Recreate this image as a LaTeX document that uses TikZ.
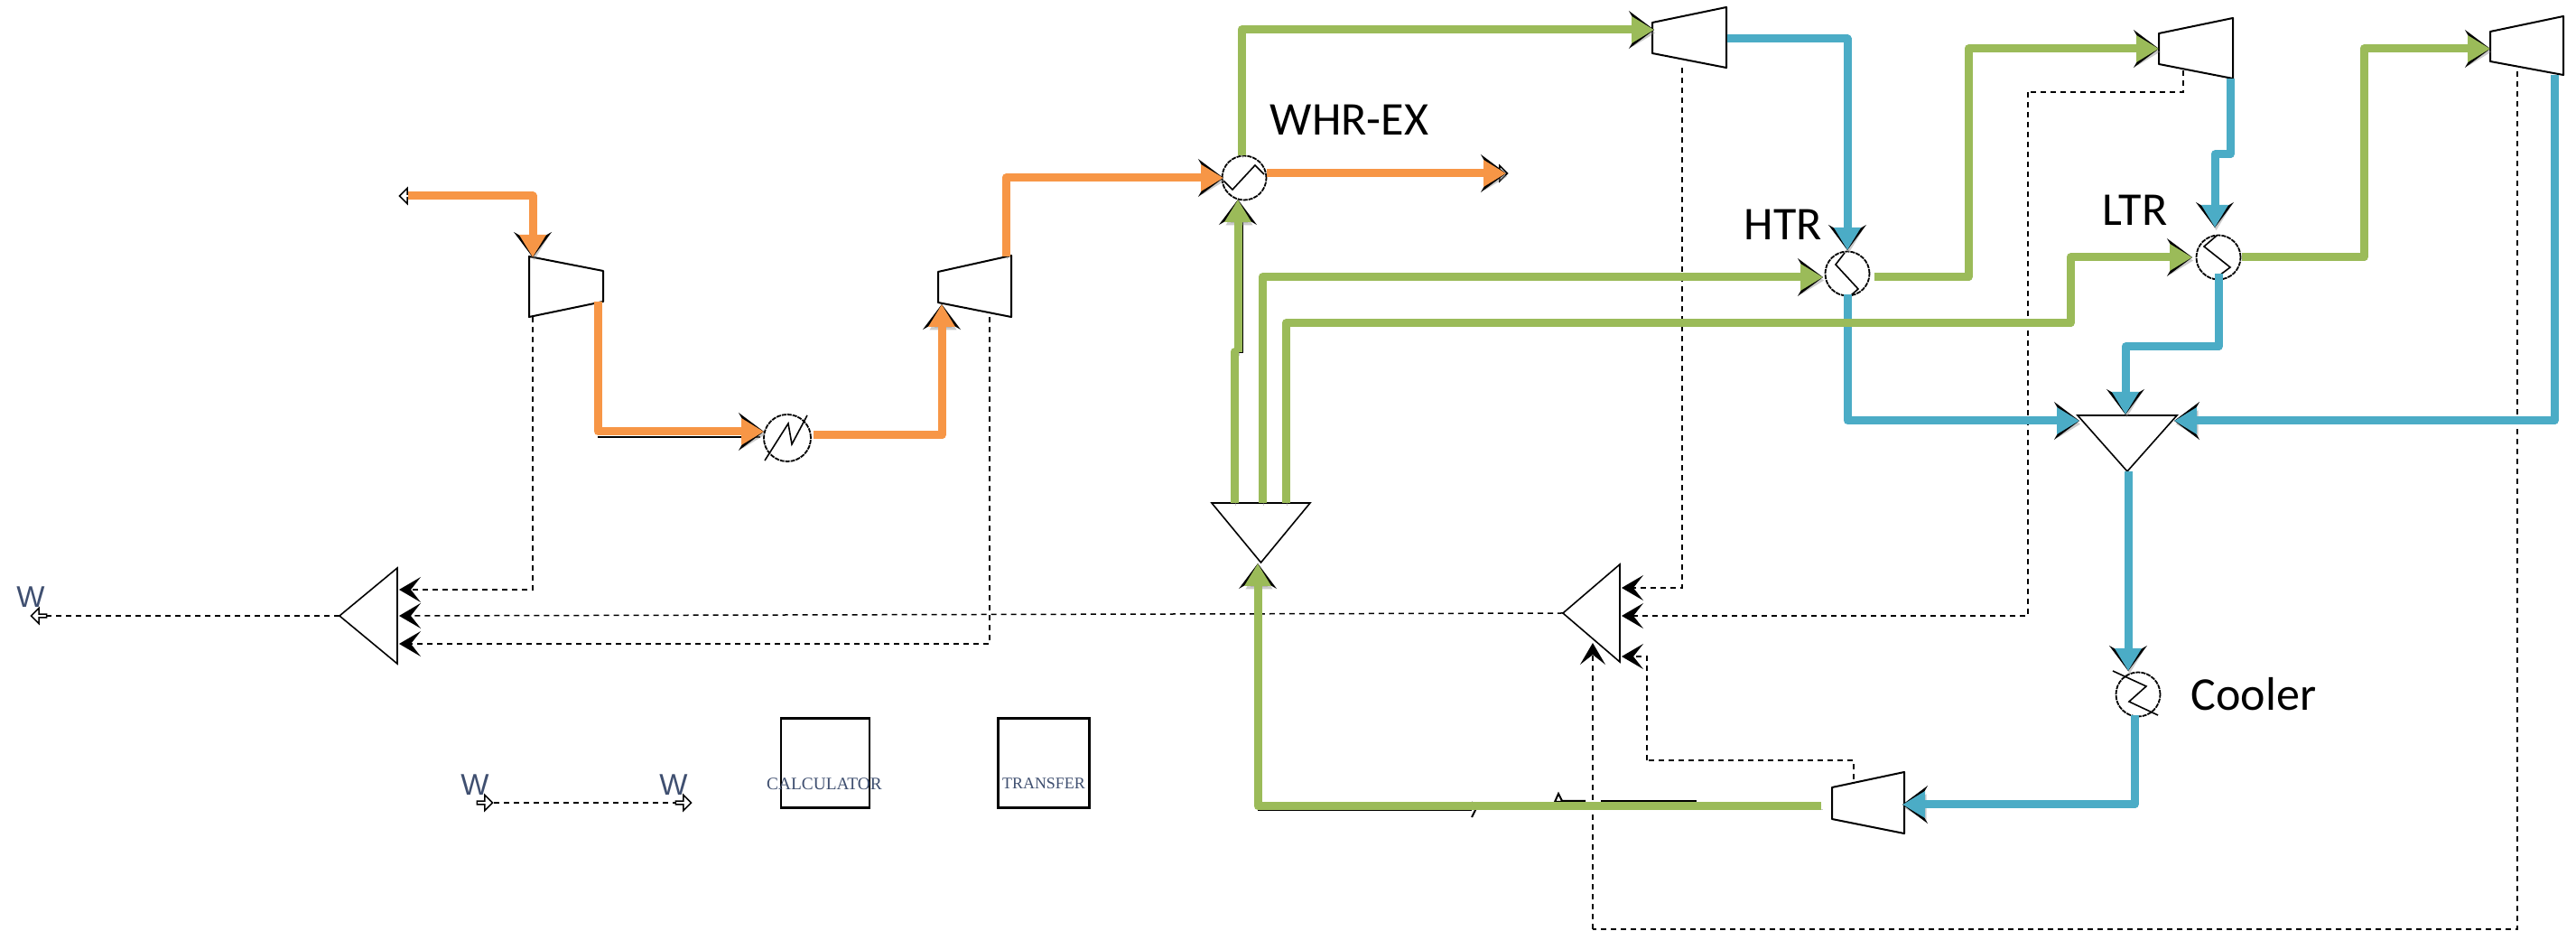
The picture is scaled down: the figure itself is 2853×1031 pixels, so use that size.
\documentclass[tikz,border=0pt]{standalone}
\usepackage{fontspec}
\usetikzlibrary{arrows.meta,shapes.arrows}
\setmainfont{Carlito}
\newfontfamily\labelfont{Carlito}
\newfontfamily\serfont{Liberation Serif}
\newfontfamily\wfont{Liberation Sans}
\newdimen\px \px=0.2845pt
\definecolor{orng}{HTML}{F79646}
\definecolor{grn}{HTML}{9BBB59}
\definecolor{blu}{HTML}{4BACC6}
\definecolor{wink}{HTML}{3F4F70}
\tikzset{
 pipe/.style={line width=9\px,line join=round,
   preaction={draw=black!45,draw opacity=.45,transform canvas={xshift=1.5\px,yshift=-3.5\px}}},
 pipearrow/.style={line width=9\px,line join=round,
   preaction={draw=black!45,draw opacity=.45,transform canvas={xshift=1.5\px,yshift=-3.5\px},-{Triangle[length=7.11pt,width=8pt]}},
   preaction={draw=black,line width=1\px,-{Stealth[length=7.97pt,width=11.95pt,inset=3.41pt]}},
   -{Triangle[length=7.11pt,width=8pt]}},
 sig/.style={draw=black,line width=1.5\px,dash pattern=on 6\px off 5\px},
 sigarrow/.style={sig,-{Stealth[length=6.83pt,width=7.97pt,inset=3.13pt]}},
 mach/.style={draw=black,line width=2\px,line join=round,fill=white},
 hxer/.style={circle,draw=black,line width=1.8\px,fill=white,dash pattern=on 5\px off 1\px,inner sep=0pt,minimum size=49\px},
 zig/.style={draw=black,line width=1.6\px},
 wedge/.style={draw=black,line width=1.6\px,line join=miter,fill=white},
 ghost/.style={inner sep=0pt,minimum size=1\px},
 endmark/.style={single arrow,draw=black,fill=white,line width=1.5\px,inner sep=0pt,minimum height=17\px,minimum width=17\px,single arrow head extend=2.5\px},
 thinblk/.style={draw=black,line width=2\px},
 lab/.style={inner sep=0pt,anchor=base west,text=black,font=\labelfont\fontsize{14.8}{16}\selectfont},
 wlab/.style={inner sep=0pt,text=wink,font=\wfont\fontsize{9.4}{10}\selectfont},
 boxnode/.style={draw=black,line width=2.2\px,inner sep=0pt,minimum width=98\px,minimum height=99\px},
 boxtxt/.style={inner sep=0pt,text=wink,font=\serfont\fontsize{5.5}{6}\selectfont}
}
% name, x big side, x small side, y big top, y big bottom, y small top, y small bottom
\newcommand{\machine}[7]{%
  \filldraw[mach] (#2,#4) -- (#2,#5) -- (#3,#7) -- (#3,#6) -- cycle;
  \node[ghost] (#1) at ({(#2+#3)/2},{(#4+#5)/2}) {};}
\newcommand{\wedgeH}[5]{% name, base x, apex x, top y, bottom y
  \filldraw[wedge] (#2,#4) -- (#3,{(#4+#5)/2}) -- (#2,#5) -- cycle;
  \node[ghost] (#1) at ({(#2+#3)/2},{(#4+#5)/2}) {};}
\newcommand{\wedgeV}[5]{% name, left x, right x, base y, apex y
  \filldraw[wedge] (#2,#4) -- ({(#2+#3)/2},#5) -- (#3,#4) -- cycle;
  \node[ghost] (#1) at ({(#2+#3)/2},{(#4+#5)/2}) {};}
\begin{document}
\begin{tikzpicture}[x=0.01cm,y=-0.01cm]
\useasboundingbox[fill=white] (0,0) rectangle (2853,1031);

% ---- named ports and waypoints
\coordinate (feed) at (452,217);
\coordinate (c1in) at (590,285);
\coordinate (c1out) at (662,334);
\coordinate (h1in) at (846,478);
\coordinate (h1out) at (901,482);
\coordinate (c2in) at (1043,337);
\coordinate (c2out) at (1114,284);
\coordinate (wgin) at (1355,197);
\coordinate (wgout) at (1403,192);
\coordinate (exh) at (1668,192);
\coordinate (exhm) at (1660,192);
\coordinate (whot) at (1375,172);
\coordinate (c3in) at (1832,33);
\coordinate (c3out) at (1913,43);
\coordinate (htrin) at (2046,277);
\coordinate (htrbot) at (2046,326);
\coordinate (mixL) at (2303,466);
\coordinate (sp1a) at (1367,557);
\coordinate (jog1) at (1367,390);
\coordinate (jog2) at (1371,390);
\coordinate (wcold) at (1371,221);
\coordinate (sp1b) at (1398,557);
\coordinate (htrcold) at (2019,307);
\coordinate (sp1c) at (1424,557);
\coordinate (step1) at (2293,358);
\coordinate (ltrcold) at (2428,285);
\coordinate (htrout) at (2076,307);
\coordinate (up1) at (2180,180);
\coordinate (c4in) at (2391,54);
\coordinate (c4out) at (2470,87);
\coordinate (jog3) at (2470,171);
\coordinate (jog4) at (2453,171);
\coordinate (ltrin) at (2453,252);
\coordinate (ltrbot) at (2457,303);
\coordinate (jog5) at (2457,384);
\coordinate (jog6) at (2354,384);
\coordinate (mixT) at (2354,459);
\coordinate (ltrout) at (2483,285);
\coordinate (up2) at (2618,180);
\coordinate (c5in) at (2758,54);
\coordinate (c5out) at (2829,83);
\coordinate (mixR) at (2408,466);
\coordinate (mixout) at (2357,522);
\coordinate (cin) at (2357,743);
\coordinate (cout) at (2364,792);
\coordinate (c6in) at (2107,891);
\coordinate (c6out) at (2017,893);
\coordinate (spin) at (1393,624);
\coordinate (m1a) at (442,653);
\coordinate (m1b) at (442,682);
\coordinate (m1c) at (442,713);
\coordinate (m2a) at (1796,651);
\coordinate (m2b) at (1796,682);
\coordinate (m2c) at (1796,727);
\coordinate (m2d) at (1764,712);
\coordinate (s1) at (590,351);
\coordinate (s2) at (1096,351);
\coordinate (s3) at (1863,75);
\coordinate (s4) at (2418,78);
\coordinate (s4a) at (2246,102);
\coordinate (s5) at (2788,68);
\coordinate (s5a) at (1764,1029);
\coordinate (s6) at (2053,863);
\coordinate (s6a) at (1824,842);
\coordinate (mid) at (1731,679);
\coordinate (wout) at (376,682);
\coordinate (wend) at (44,682);
\coordinate (tl1) at (536,889);
\coordinate (tl2) at (756,889);

% ---- thin black stream lines lying beside the colour bands
\draw[thinblk] (662,484) -- (842,484);
\draw[thinblk] (1371,238) -- (1376,238) -- (1376,390) -- (1369,390);
\draw[thinblk] (2180,50) -- (2385,50);
\draw[thinblk] (1393,897) -- (1630,897);
\draw[thinblk] (1630,888) -- (1634,897) -- (1630,905);
\draw[thinblk] (1773,887) -- (1879,887);
\draw[thinblk] (1756,887) -- (1730,887) -- (1726,879) -- (1722,888) -- (1730,888);

% ---- signal (work) lines
\draw[sigarrow] (s1) |- (m1a);
\draw[sigarrow] (s2) |- (m1c);
\draw[sigarrow] (mid) -- (m1b);
\draw[sig] (wout) -- (wend);
\draw[sigarrow] (s3) |- (m2a);
\draw[sig] (s4) |- (s4a);
\draw[sigarrow] (s4a) |- (m2b);
\draw[sig] (s6) |- (s6a);
\draw[sigarrow] (s6a) |- (m2c);
\draw[sig] (s5) |- (s5a);
\draw[sigarrow] (s5a) -- (m2d);
\draw[sig] (tl1) -- (tl2);

% ---- equipment
\machine{c1}{586}{668}{284}{351}{300}{334}
\machine{c2}{1120}{1039}{283}{351}{301}{335}
\machine{c3}{1912}{1830}{8}{75}{25}{59}
\machine{c4}{2473}{2391}{20}{87}{37}{71}
\machine{c5}{2839}{2758}{18}{83}{35}{68}
\machine{c6}{2109}{2029}{855}{923}{872}{907}
\wedgeH{m1}{440}{376}{629}{735}
\wedgeH{m2}{1794}{1731}{625}{733}
\wedgeV{sp}{1342}{1451}{557}{623}
\wedgeV{mx}{2301}{2411}{460}{522}

\node[hxer,minimum size=52\px] (h1) at (872,485) {};
\draw[zig] (847,510) -- (873,469) -- (877,492) -- (894,460);
\node[hxer] (whr) at (1378,197) {};
\draw[zig] (1355,200) -- (1365,210) -- (1390,183) -- (1400,193);
\node[hxer] (htr) at (2046,303) {};
\draw[zig] (2043,280) -- (2033,293) -- (2058,320) -- (2050,327);
\node[hxer] (ltr) at (2457,285) {};
\draw[zig] (2455,261) -- (2441,273) -- (2470,296) -- (2458,305);
\node[hxer] (clr) at (2368,769) {};
\draw[zig] (2340,743) -- (2377,760) -- (2358,777) -- (2390,792);

% ---- stream end marks
\node[endmark,shape border rotate=180] (mk1) at (feed) {};
\node[endmark] (mk2) at (exhm) {};
\node[endmark,shape border rotate=180] (mk3) at (wend) {};
\node[endmark] (mk4) at (tl1) {};
\node[endmark] (mk5) at (tl2) {};

% ---- orange streams
\draw[pipearrow,draw=orng] (feed) -| (c1in);
\draw[pipearrow,draw=orng] (c1out) |- (h1in);
\draw[pipearrow,draw=orng] (h1out) -| (c2in);
\draw[pipearrow,draw=orng] (c2out) |- (wgin);
\draw[pipearrow,draw=orng] (wgout) -- (exh);

% ---- blue streams
\draw[pipearrow,draw=blu] (c3out) -| (htrin);
\draw[pipearrow,draw=blu] (htrbot) |- (mixL);
\draw[pipearrow,draw=blu] (c4out) -- (jog3) -- (jog4) -- (ltrin);
\draw[pipearrow,draw=blu] (ltrbot) -- (jog5) -- (jog6) -- (mixT);
\draw[pipearrow,draw=blu] (c5out) |- (mixR);
\draw[pipearrow,draw=blu] (mixout) -- (cin);
\draw[pipearrow,draw=blu] (cout) |- (c6in);

% ---- green streams
\draw[pipearrow,draw=grn] (whot) |- (c3in);
\draw[pipe,draw=grn] (sp1a) -- (jog1) -- (jog2);
\draw[pipearrow,draw=grn] (jog2) -- (wcold);
\draw[pipearrow,draw=grn] (sp1b) |- (htrcold);
\draw[pipearrow,draw=grn] (sp1c) |- (step1) |- (ltrcold);
\draw[pipearrow,draw=grn] (htrout) -| (up1) |- (c4in);
\draw[pipearrow,draw=grn] (ltrout) -| (up2) |- (c5in);
\draw[pipearrow,draw=grn] (c6out) -| (spin);

% ---- labels
\node[lab] (lwhr) at (1406,150) {WHR-EX};
\node[lab] (lhtr) at (1931,266) {HTR};
\node[lab] (lltr) at (2328,250) {LTR};
\node[lab] (lclr) at (2426,787) {Cooler};
\node[wlab] (w1) at (34,661) {W};
\node[wlab] (w2) at (526,869) {W};
\node[wlab] (w3) at (746,869) {W};
\node[boxnode] (calc) at (914,845) {};
\node[boxnode,minimum width=101\px] (tran) at (1156,845) {};
\node[boxtxt] (calct) at (913,868) {CALCULATOR};
\node[boxtxt,font=\serfont\fontsize{5.1}{6}\selectfont] (trant) at (1156,868) {TRANSFER};
\end{tikzpicture}
\end{document}
